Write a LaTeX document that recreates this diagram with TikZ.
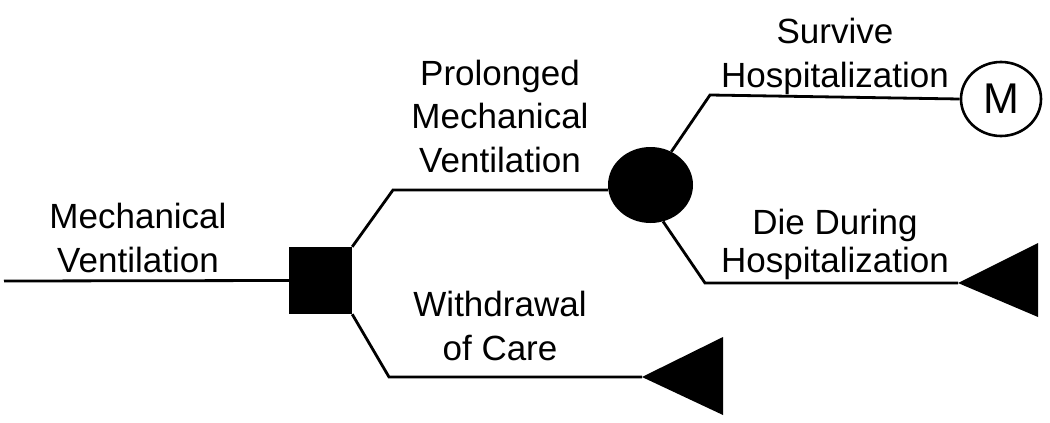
\documentclass[tikz,border=0pt]{standalone}
\usepackage{fontspec}
\setmainfont{Liberation Sans}
\usetikzlibrary{shapes.geometric}
\begin{document}
\begin{tikzpicture}[x=1pt,y=-1pt,
  branch/.style={line width=2.8pt, line join=miter},
  lbl/.style={align=center, inner sep=0pt, anchor=base, font=\fontsize{35}{43.5}\selectfont},
  decision/.style={draw=none, fill=black, minimum width=63pt, minimum height=67pt, inner sep=0pt},
  chancenode/.style={ellipse, fill=black, minimum width=85pt, minimum height=76pt, inner sep=0pt},
  markov/.style={ellipse, draw, line width=2.6pt, minimum width=80pt, minimum height=74pt, inner sep=0pt, font=\fontsize{43}{43}\selectfont},
  terminal/.style={fill=black}
]
\useasboundingbox (0,0) rectangle (1050,423);

% nodes
\coordinate (start) at (4,281);
\node[decision] (dec) at (320.5,280.5) {};
\node[chancenode] (chance) at (650.5,185) {};
\node[markov] (m) at (1001,99) {M};
\coordinate (pmv) at (393,190);
\coordinate (wc) at (389,377);
\coordinate (sh) at (710,95);
\coordinate (dh) at (705,283);
\coordinate (t1) at (958,283);
\coordinate (t2) at (642,377);

% terminals
\fill[terminal] (t1) -- (1038,243) -- (1038,317) -- cycle;
\fill[terminal] (t2) -- (723,337) -- (723,415) -- cycle;

% connectors
\draw[branch] (start) -- (dec.west);
\draw[branch] (dec.north east) -- (pmv) -- (pmv -| chance.west);
\draw[branch] (dec.south east) -- (wc) -- (t2);
\draw[branch] (chance.58) -- (sh) -- (m.west);
\draw[branch] (chance.-71) -- (dh) -- (t1);

% labels (anchor base = baseline of last line)
\node[lbl] (lmv) at (138,272) {Mechanical\\Ventilation};
\node[lbl] (lpmv) at (500,172) {Prolonged\\Mechanical\\Ventilation};
\node[lbl] (lsh) at (835,87) {Survive\\Hospitalization};
\node[lbl] (ldh) at (835,272) {Die During\\[-6pt]Hospitalization};
\node[lbl] (lwc) at (500,360) {Withdrawal\\of Care};
\end{tikzpicture}
\end{document}
